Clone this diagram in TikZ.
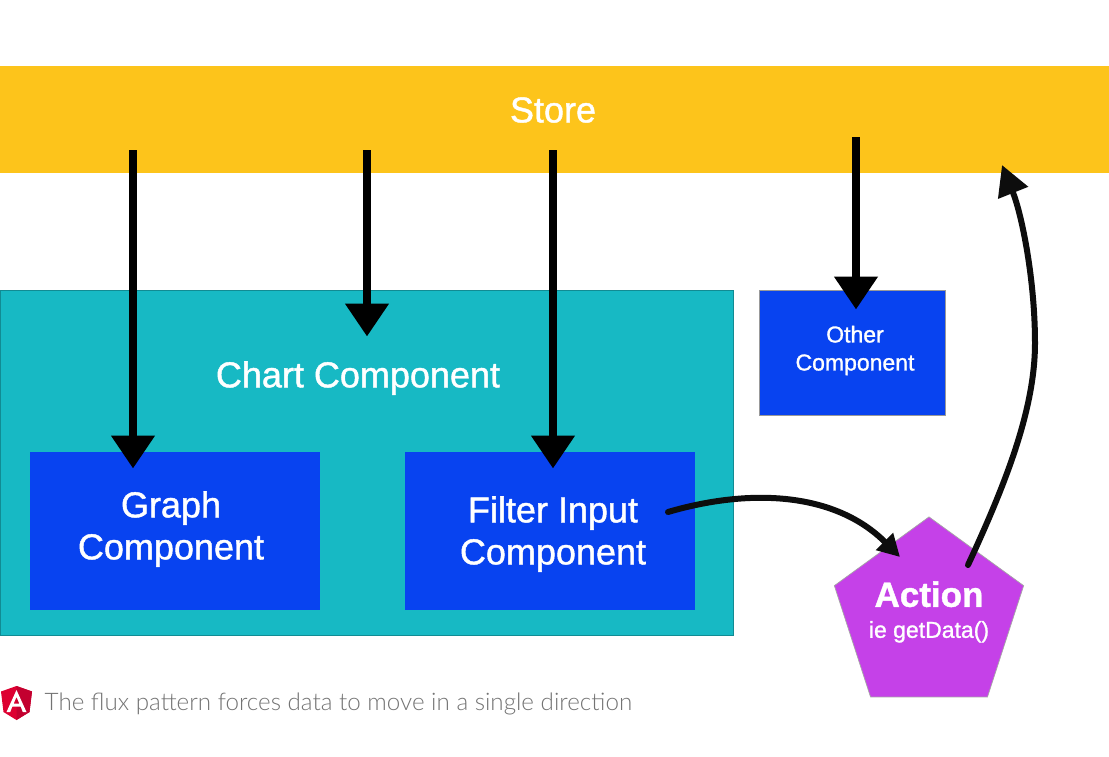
\documentclass[tikz,border=0pt]{standalone}
\usepackage{fontspec}
\setmainfont{Liberation Sans}
\newfontfamily\lightfont{Lato Light}
\newfontfamily\mediumfont[FakeBold=1.2]{Liberation Sans}
\usetikzlibrary{arrows.meta, shapes.geometric, positioning}

\definecolor{storeyellow}{HTML}{FDC41B}
\definecolor{chartteal}{HTML}{17B9C4}
\definecolor{compblue}{HTML}{0843F0}
\definecolor{actionpurple}{HTML}{C541E8}
\definecolor{angularred}{HTML}{DD0031}
\definecolor{angulardark}{HTML}{C3002F}

\tikzset{
	box/.style = {rectangle, inner sep = 0pt, outer sep = 0pt},
	comp/.style = {box, fill = compblue, minimum width = 290pt, minimum height = 158pt},
	label/.style = {text = white, align = center, inner sep = 0pt, font = \mediumfont\fontsize{36}{42}\selectfont},
	push/.style = {line width = 8pt, color = black, -{Triangle[width = 42pt, length = 33pt]}},
	curve/.style = {line width = 6pt, color = black!95, line cap = round, line join = round}
}

\begin{document}
\begin{tikzpicture}[x = 1pt, y = -1pt]
	\useasboundingbox (0, 0) rectangle (1109, 756);
	\fill[white] (0, 0) rectangle (1109, 756);

	\node[box, fill = storeyellow, minimum width = 1109pt, minimum height = 107pt, anchor = north west] (STORE) at (0, 66) {};
	\node[label] (STORELABEL) at (553, 110) {Store};

	\node[box, fill = chartteal, draw = chartteal!75!black, line width = 0.7pt, minimum width = 733pt, minimum height = 345pt, anchor = north west] (CHART) at (0, 290) {};
	\node[label] (CHARTLABEL) at (358, 378) {Chart Component};

	\node[comp, anchor = north west] (GRAPH) at (30, 452) {};
	\node[comp, right = 85pt of GRAPH] (FILTER) {};
	\node[label] (GRAPHLABEL) at ([xshift = -4pt, yshift = 2pt] GRAPH) {Graph\\Component};
	\node[label] (FILTERLABEL) at ([xshift = 3pt, yshift = -3pt] FILTER) {Filter Input\\Component};

	\node[box, fill = compblue, draw = black!40, line width = 0.7pt, minimum width = 186pt, minimum height = 125pt, anchor = north west] (OTHER) at (759, 290) {};
	\node[label, font = \mediumfont\fontsize{23}{28}\selectfont] (OTHERLABEL) at ([xshift = 3pt, yshift = 2pt] OTHER) {Other\\Component};

	\node[regular polygon, regular polygon sides = 5, fill = actionpurple, draw = black!35, line width = 0.7pt, inner sep = 0pt, outer sep = 0pt, minimum size = 199pt] (ACTION) at (929, 616.4) {};
	\node[label, font = \mediumfont\fontsize{23}{28}\selectfont] (ACTIONLABEL) at (929, 612) {{\fontsize{35}{40}\selectfont\bfseries Action}\\[3pt]ie getData()};

	% free ends of the arrows
	\coordinate (S1) at (133, 150);
	\coordinate (S2) at (367, 150);
	\coordinate (S3) at (553, 150);
	\coordinate (S4) at (856, 137);
	\coordinate (T1) at (133, 468.5);
	\coordinate (T2) at (367, 336.5);
	\coordinate (T3) at (553, 468.5);
	\coordinate (T4) at (856, 309.5);

	\draw[push] (S1) -- (T1);
	\draw[push] (S2) -- (T2);
	\draw[push] (S3) -- (T3);
	\draw[push] (S4) -- (T4);

	\coordinate (F1) at (668, 512);
	\coordinate (A1) at (900, 557);
	\coordinate (A2) at (968, 565);
	\coordinate (S5) at (1002, 165);
	\draw[curve, -{Triangle[width = 23pt, length = 22pt]}] (F1) .. controls (750, 488) and (835, 492) .. (A1);
	\draw[curve, -{Triangle[width = 31pt, length = 30pt]}] (A2) .. controls (1005, 485) and (1035, 410) .. (1035, 343) .. controls (1035, 280) and (1022, 215) .. (S5);

	% angular logo
	\fill[angularred] (16.5, 686) -- (32, 691.5) -- (29.5, 712) -- (16.5, 720) -- (3.5, 712) -- (1, 691.5) -- cycle;
	\fill[angulardark] (16.5, 686) -- (32, 691.5) -- (29.5, 712) -- (16.5, 720) -- cycle;
	\fill[white, even odd rule] (16.5, 690) -- (26.5, 712) -- (22.8, 712) -- (20.7, 706.7) -- (12.3, 706.7) -- (10.2, 712) -- (6.5, 712) -- cycle
		(16.5, 697) -- (13.6, 703.7) -- (19.4, 703.7) -- cycle;

	\node[anchor = base west, inner sep = 0pt, text = black!55, font = \lightfont\fontsize{24.2}{30}\selectfont] (NOTE) at (44.5, 710) {The flux pattern forces data to move in a single direction};
\end{tikzpicture}
\end{document}
